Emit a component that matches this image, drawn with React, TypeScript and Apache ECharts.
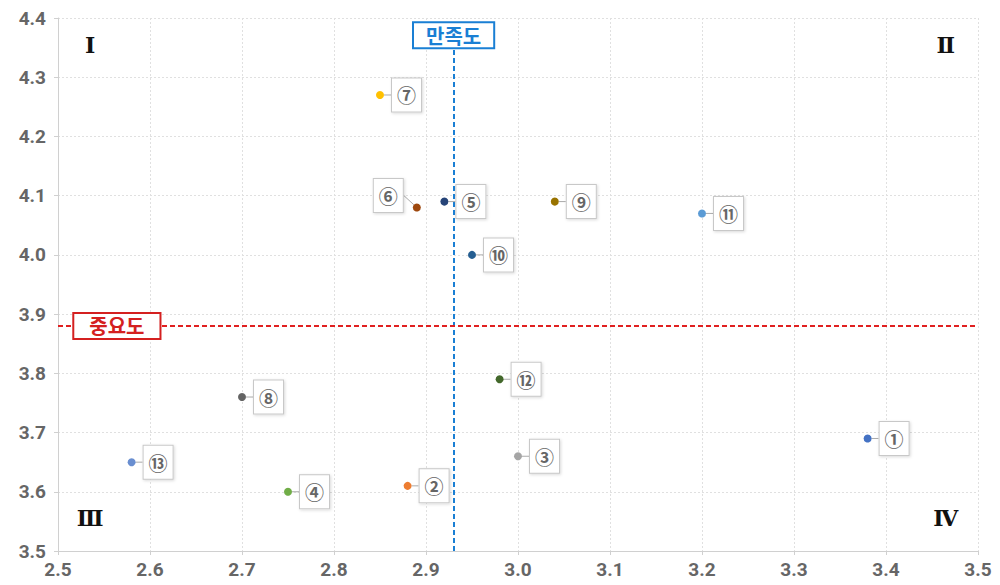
import React, { useEffect, useRef } from "react";
import * as echarts from "echarts";

const names = ["①", "②", "③", "④", "⑤", "⑥", "⑦", "⑧", "⑨", "⑩", "⑪", "⑫", "⑬"];
const xValues = [3.38, 2.88, 3.0, 2.75, 2.92, 2.89, 2.85, 2.7, 3.04, 2.95, 3.2, 2.98, 2.58];
const yValues = [3.69, 3.61, 3.66, 3.6, 4.09, 4.08, 4.27, 3.76, 4.09, 4.0, 4.07, 3.79, 3.65];
const colors = ["#4472c4", "#ed7d31", "#a5a5a5", "#70ad47", "#264478", "#9e480e", "#ffc000", "#636363", "#997300", "#255e91", "#5b9bd5", "#43682b", "#698ed0"];
const satisfactionMean = 2.93;
const importanceMean = 3.88;
const quadrantLabels = ["Ⅰ", "Ⅱ", "Ⅲ", "Ⅳ"];
const quadrantX = [2.535, 3.465, 2.535, 3.465];
const quadrantY = [4.354, 4.354, 3.556, 3.556];

export default function App() {
  const ref = useRef<HTMLDivElement>(null);
  useEffect(() => {
    const chart = echarts.init(ref.current!, null, { renderer: "svg" });
    const axisLabel = { color: "#666", fontSize: 19, fontWeight: "bold", fontFamily: "Roboto" };
    const splitLine = { show: true, lineStyle: { color: "#e0e0e0", type: [2, 2] as any } };
    const pointSeries = names.map((n, i) => ({
      type: "scatter",
      name: n,
      symbolSize: 8,
      itemStyle: { color: colors[i], opacity: 1 },
      data: [[xValues[i], yValues[i]]],
      label: {
        show: true,
        formatter: n,
        position: i === 5 ? "left" : "right",
        distance: 6,
        color: "#666",
        fontSize: 19,
        fontWeight: "bold",
        fontFamily: "Noto Sans CJK KR",
        backgroundColor: "#fff",
        borderColor: "#c8c8c8",
        borderWidth: 1,
        padding: [7, 5, 7, 5],
        shadowColor: "rgba(0,0,0,0.15)",
        shadowBlur: 3,
        shadowOffsetX: 1,
        shadowOffsetY: 1,
      },
      labelLayout: i === 5 ? { dx: -4, dy: -12 } : { dx: 2, dy: 0 },
      labelLine: { show: true, length2: 0, lineStyle: { color: "#aaa", width: 1 } },
      z: 5,
    }));
    chart.setOption({
      animation: false,
      grid: { left: 58, right: 22, top: 18, bottom: 34 },
      xAxis: {
        type: "value",
        min: 2.5,
        max: 3.5,
        interval: 0.1,
        axisLine: { show: true, lineStyle: { color: "#d0d0d0" } },
        axisTick: { show: true, length: 4, lineStyle: { color: "#d0d0d0" } },
        axisLabel: { ...axisLabel, formatter: (v: number) => v.toFixed(1), margin: 9 },
        splitLine,
      },
      yAxis: {
        type: "value",
        min: 3.5,
        max: 4.4,
        interval: 0.1,
        axisLine: { show: true, lineStyle: { color: "#d0d0d0" } },
        axisTick: { show: true, length: 4, lineStyle: { color: "#d0d0d0" } },
        axisLabel: { ...axisLabel, formatter: (v: number) => v.toFixed(1), margin: 12 },
        splitLine,
      },
      series: [
        ...pointSeries,
        {
          type: "scatter",
          data: [],
          silent: true,
          markLine: {
            silent: true,
            symbol: "none",
            label: { show: false },
            data: [
              [
                { coord: [satisfactionMean, 3.5], lineStyle: { color: "#1a7fd4", type: [5, 3], width: 2 } },
                { coord: [satisfactionMean, 4.35] },
              ],
              [
                { coord: [2.5, importanceMean], lineStyle: { color: "#e02020", type: [5, 3], width: 2 } },
                { coord: [3.5, importanceMean] },
              ],
            ],
          },
          markPoint: {
            silent: true,
            symbol: "rect",
            symbolSize: 0,
            data: [
              {
                coord: [satisfactionMean, 4.371],
                label: {
                  show: true,
                  formatter: "만족도",
                  color: "#1a7fd4",
                  fontSize: 20,
                  fontWeight: "bold",
                  fontFamily: "Noto Sans CJK KR",
                  backgroundColor: "#fff",
                  borderColor: "#1a7fd4",
                  borderWidth: 2,
                  padding: [2, 12, 2, 12],
                },
              },
              {
                coord: [2.564, importanceMean],
                label: {
                  show: true,
                  formatter: "중요도",
                  color: "#d42020",
                  fontSize: 20,
                  fontWeight: "bold",
                  fontFamily: "Noto Sans CJK KR",
                  backgroundColor: "#fff",
                  borderColor: "#d42020",
                  borderWidth: 2,
                  padding: [2, 15, 2, 15],
                },
              },
              ...quadrantLabels.map((q, i) => ({
                coord: [quadrantX[i], quadrantY[i]],
                label: {
                  show: true,
                  formatter: q,
                  color: "#111",
                  fontSize: 22,
                  fontWeight: "bold",
                  fontFamily: "DejaVu Serif",
                },
              })),
            ],
          },
        },
      ],
    });
    return () => chart.dispose();
  }, []);
  return <div ref={ref} style={{ width: 1000, height: 585, margin: -8 }} />;
}
